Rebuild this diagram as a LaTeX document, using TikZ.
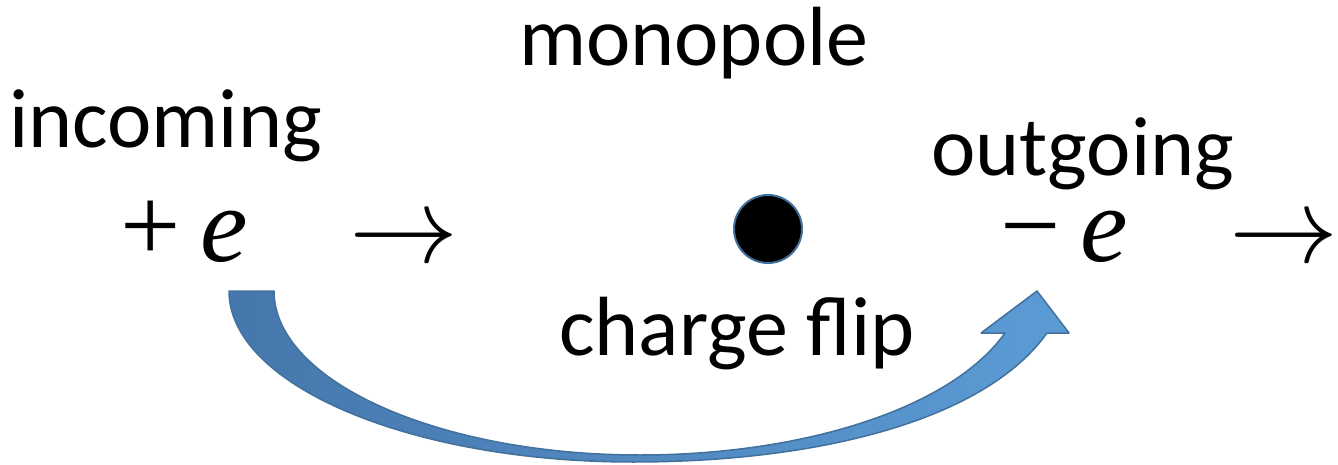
\documentclass[tikz,border=0pt]{standalone}
\usepackage[no-math]{fontspec}
\setmainfont{Carlito}
\newfontfamily\chargefont{Liberation Serif}
\usepackage{graphicx}
\definecolor{arrL}{HTML}{4677AC}
\definecolor{arrR}{HTML}{5B9BD5}
\definecolor{arrEdge}{HTML}{41719C}
\begin{document}
\begin{tikzpicture}[x=1pt,y=-1pt,
  lbl/.style={font=\fontsize{84}{90}\selectfont, anchor=base west, inner sep=0pt},
  chg/.style={font=\chargefont\fontsize{107}{110}\selectfont, anchor=base west, inner sep=0pt, text height=55pt, text depth=2pt},
  mth/.style={anchor=base west, inner sep=0pt},
  blockarrow/.style={left color=arrL, right color=arrR, draw=arrEdge, line width=1.5pt, line join=round}]
\useasboundingbox (0,0) rectangle (1338,465);
% labels
\node[lbl] (mono) at (519,66) {monopole};
\node[lbl] (inc) at (9,148) {incoming};
\node[lbl] (outg) at (931,176) {outgoing};
\node[lbl] (flip) at (559,355) {charge flip};
% charges and arrows
\node[chg] (pe) at (120,261) {+\hspace{20pt}\textit{e}};
\node[chg] (me) at (1000,261) {−\hspace{20pt}\textit{e}};
\node[mth] (a1) at (349,262) {\scalebox{10.9}{$\rightarrow$}};
\node[mth] (a2) at (1229,262) {\scalebox{10.9}{$\rightarrow$}};
% monopole
\node[circle, fill=black, draw=arrEdge, line width=2pt, minimum size=68pt, inner sep=0pt] (dot) at (768,229) {};
% curved block arrow (charge flip)
\coordinate (TL) at (229,291);
\coordinate (TR) at (274,291);
\coordinate (B) at (633,462);
\coordinate (IB) at (640,455);
\coordinate (RS) at (1047,333);
\coordinate (RB) at (1069,333);
\coordinate (tip) at (1037,291);
\coordinate (LB) at (981,333);
\coordinate (LS) at (1005,333);
\shade[blockarrow] (TL) .. controls (229,385) and (410,462) .. (B)
  .. controls (820,462) and (985,420) .. (RS)
  -- (RB) -- (tip) -- (LB) -- (LS)
  .. controls (950,410) and (800,455) .. (IB)
  .. controls (438,455) and (274,381) .. (TR) -- cycle;
\end{tikzpicture}
\end{document}
